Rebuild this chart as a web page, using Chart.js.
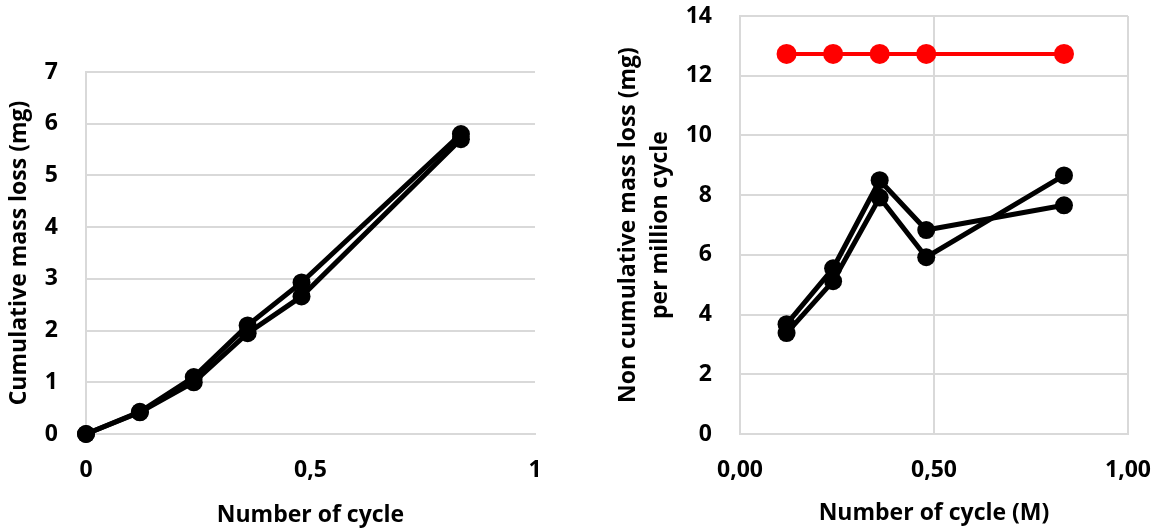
<!DOCTYPE html>
<html>
<head>
<meta charset="utf-8">
<script src="https://cdn.jsdelivr.net/npm/chart.js@4"></script>
<style>
  body { margin: 0; background: #fff; }
  .box { position: absolute; top: 0px; }
</style>
</head>
<body>
<div class="box" style="left:0px"><canvas id="cumChart" width="570" height="532"></canvas></div>
<div class="box" style="left:580px"><canvas id="rateChart" width="578" height="532"></canvas></div>
<script>
// cumulative mass loss (left chart)
const cumCycles = [0, 0.12, 0.24, 0.36, 0.48, 0.835]
const cumLossA = [0, 0.43, 1.1, 2.1, 2.93, 5.8]
const cumLossB = [0, 0.42, 1.0, 1.95, 2.66, 5.7]

// non cumulative mass loss per million cycle (right chart)
const rateCycles = [0.12, 0.24, 0.36, 0.48, 0.835]
const rateLossA = [3.68, 5.55, 8.5, 6.83, 7.66]
const rateLossB = [3.38, 5.12, 7.92, 5.92, 8.66]
const rateLimit = [12.73, 12.73, 12.73, 12.73, 12.73]

const cumYTicks = [0, 1, 2, 3, 4, 5, 6, 7]
const rateYTicks = [0, 2, 4, 6, 8, 10, 12, 14]

const gridColor = "#d9d9d9"
const fontFamily = "'Open Sans', sans-serif"

function toPoints(xs, ys) {
    return xs.map((x, i) => ({ x: x, y: ys[i] }))
}

function lineSet(xs, ys, color, width, radius) {
    return {
        data: toPoints(xs, ys),
        showLine: true,
        clip: false,
        borderColor: color,
        backgroundColor: color,
        borderWidth: width,
        pointRadius: radius,
        pointHoverRadius: radius,
        pointBorderWidth: 0,
    }
}

function boldFont(size) {
    return { family: fontFamily, size: size, weight: "bold" }
}

// keep chart area where the reference has it (Chart.js adds tick padding around labels)
function fixY(width) {
    return (s) => {
        s.width = width
        s.paddingTop = 12
        s.paddingBottom = 12
    }
}

function fixX(s) {
    s.height = 98
    s.paddingLeft = 0
    s.paddingRight = 0
}

// Left chart
new Chart(document.getElementById("cumChart"), {
    type: "scatter",
    data: {
        datasets: [
            lineSet(cumCycles, cumLossB, "#000", 5, 9),
            lineSet(cumCycles, cumLossA, "#000", 5, 9),
        ],
    },
    options: {
        responsive: false,
        animation: false,
        layout: { padding: { top: 72, right: 35, left: 0, bottom: 0 } },
        plugins: { legend: { display: false }, tooltip: { enabled: false } },
        scales: {
            x: {
                type: "linear",
                min: 0,
                max: 1,
                afterFit: fixX,
                afterBuildTicks: (s) => { s.ticks = [0, 0.5, 1].map((v) => ({ value: v })) },
                ticks: {
                    color: "#000",
                    font: boldFont(23),
                    padding: 23,
                    maxRotation: 0,
                    callback: (v) => String(v).replace(".", ","),
                },
                grid: { display: false, drawTicks: false },
                border: { display: true, color: gridColor, width: 2 },
                title: {
                    display: true,
                    text: "Number of cycle",
                    color: "#000",
                    font: boldFont(23),
                    padding: { top: 0, bottom: 3 },
                },
            },
            y: {
                min: 0,
                max: 7,
                afterFit: fixY(86),
                afterBuildTicks: (s) => { s.ticks = cumYTicks.map((v) => ({ value: v })) },
                ticks: { color: "#000", font: boldFont(23), padding: 28 },
                grid: { color: gridColor, lineWidth: 2, drawTicks: false },
                border: { display: true, color: gridColor, width: 2 },
                title: {
                    display: true,
                    text: "Cumulative mass loss (mg)",
                    color: "#000",
                    font: boldFont(23),
                    padding: { top: 6, bottom: 0 },
                },
            },
        },
    },
})

// Right chart
new Chart(document.getElementById("rateChart"), {
    type: "scatter",
    data: {
        datasets: [
            lineSet(rateCycles, rateLimit, "#ff0000", 4, 10),
            lineSet(rateCycles, rateLossB, "#000", 5, 9),
            lineSet(rateCycles, rateLossA, "#000", 5, 9),
        ],
    },
    options: {
        responsive: false,
        animation: false,
        layout: { padding: { top: 16, right: 30, left: 0, bottom: 0 } },
        plugins: { legend: { display: false }, tooltip: { enabled: false } },
        scales: {
            x: {
                type: "linear",
                min: 0,
                max: 1,
                afterFit: fixX,
                afterBuildTicks: (s) => { s.ticks = [0, 0.5, 1].map((v) => ({ value: v })) },
                ticks: {
                    color: "#000",
                    font: boldFont(23),
                    padding: 23,
                    maxRotation: 0,
                    callback: (v) => v.toFixed(2).replace(".", ","),
                },
                grid: { color: gridColor, lineWidth: 2, drawTicks: false },
                border: { display: true, color: gridColor, width: 2 },
                title: {
                    display: true,
                    text: "Number of cycle (M)",
                    color: "#000",
                    font: boldFont(23),
                    padding: { top: 0, bottom: 5 },
                },
            },
            y: {
                min: 0,
                max: 14,
                afterFit: fixY(160),
                afterBuildTicks: (s) => { s.ticks = rateYTicks.map((v) => ({ value: v })) },
                ticks: { color: "#000", font: boldFont(23), padding: 28 },
                grid: { color: gridColor, lineWidth: 2, drawTicks: false },
                border: { display: true, color: gridColor, width: 2 },
                title: {
                    display: true,
                    text: ["Non cumulative mass loss (mg)", "per million cycle"],
                    color: "#000",
                    font: { family: fontFamily, size: 23, weight: "bold", lineHeight: 1.4 },
                    padding: { top: 32, bottom: 0 },
                },
            },
        },
    },
})
</script>
</body>
</html>
